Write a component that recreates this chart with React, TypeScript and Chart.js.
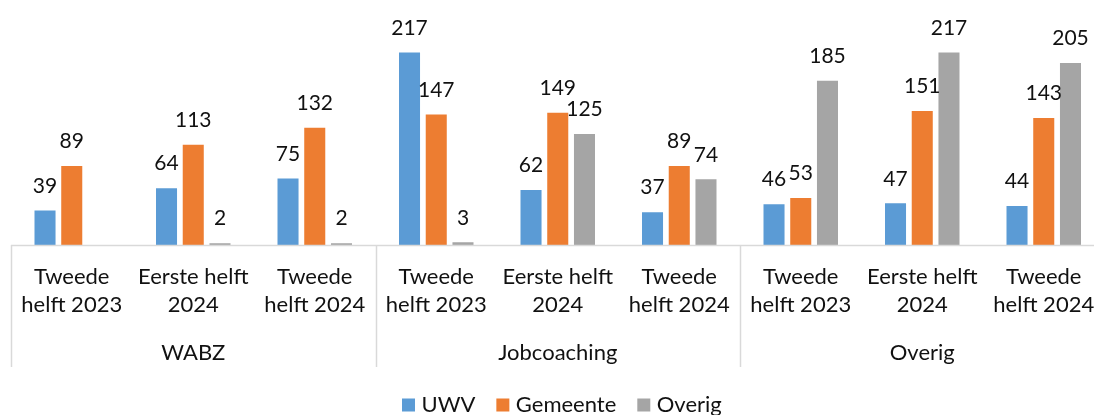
import React, { useEffect, useRef } from "react";
import Chart from "chart.js/auto";

const categories: string[][] = [
  ["Tweede", "helft 2023"],
  ["Eerste helft", "2024"],
  ["Tweede", "helft 2024"],
  ["Tweede", "helft 2023"],
  ["Eerste helft", "2024"],
  ["Tweede", "helft 2024"],
  ["Tweede", "helft 2023"],
  ["Eerste helft", "2024"],
  ["Tweede", "helft 2024"],
];
const groups: string[] = ["WABZ", "Jobcoaching", "Overig"];
const uwv: (number | null)[] = [39, 64, 75, 217, 62, 37, 46, 47, 44];
const gemeente: (number | null)[] = [89, 113, 132, 147, 149, 89, 53, 151, 143];
const overig: (number | null)[] = [null, 2, 2, 3, 125, 74, 185, 217, 205];

const FONT = "Lato, 'Open Sans', sans-serif";
const TEXT = "#111111";
const LINE = "#D9D9D9";

const customPlugin = {
  id: "custom",
  afterDatasetsDraw(chart: any) {
    const ctx = chart.ctx;
    ctx.save();
    ctx.font = `21px ${FONT}`;
    ctx.fillStyle = TEXT;
    ctx.textAlign = "center";
    ctx.textBaseline = "middle";
    chart.data.datasets.forEach((ds: any, di: number) => {
      const meta = chart.getDatasetMeta(di);
      meta.data.forEach((el: any, i: number) => {
        const v = ds.data[i];
        if (v === null || v === undefined) return;
        ctx.fillText(String(v), el.x, el.y - 24.5);
      });
    });
    ctx.restore();
  },
  afterDraw(chart: any) {
    const ctx = chart.ctx;
    const xs = chart.scales.x;
    const area = chart.chartArea;
    const n = categories.length;
    const bounds: number[] = [area.left];
    for (let g = 1; g < groups.length; g++) {
      const i = g * 3;
      bounds.push((xs.getPixelForValue(i - 1) + xs.getPixelForValue(i)) / 2);
    }
    bounds.push(area.right);
    ctx.save();
    ctx.strokeStyle = LINE;
    ctx.lineWidth = 1.5;
    ctx.beginPath();
    ctx.moveTo(area.left, area.bottom + 0.5);
    ctx.lineTo(area.right, area.bottom + 0.5);
    ctx.stroke();
    bounds.forEach((bx) => {
      const x = Math.round(bx) + 0.5;
      ctx.beginPath();
      ctx.moveTo(x, area.bottom);
      ctx.lineTo(x, area.bottom + 122);
      ctx.stroke();
    });
    ctx.fillStyle = TEXT;
    ctx.textAlign = "center";
    ctx.textBaseline = "middle";
    ctx.font = `22px ${FONT}`;
    for (let i = 0; i < n; i++) {
      const x = xs.getPixelForValue(i);
      ctx.fillText(categories[i][0], x, area.bottom + 32);
      ctx.fillText(categories[i][1], x, area.bottom + 60);
    }
    groups.forEach((g, gi) => {
      const x = (bounds[gi] + bounds[gi + 1]) / 2;
      ctx.fillText(g, x, area.bottom + 108);
    });
    // legend
    let lx = 402;
    const ly = 405;
    ctx.textAlign = "left";
    chart.data.datasets.forEach((ds: any) => {
      ctx.fillStyle = ds.backgroundColor;
      ctx.fillRect(lx, ly - 6.5, 13, 13);
      ctx.fillStyle = TEXT;
      const tx = lx + 13 + 6.5;
      ctx.fillText(ds.label, tx, ly);
      lx = tx + ctx.measureText(ds.label).width + 21;
    });
    ctx.restore();
  },
};

export default function App() {
  const ref = useRef<HTMLCanvasElement | null>(null);
  useEffect(() => {
    if (!ref.current) return;
    const chart = new Chart(ref.current, {
      type: "bar",
      data: {
        labels: categories.map((c) => c.join(" ")),
        datasets: [
          { label: "UWV", data: uwv, backgroundColor: "#5B9BD5" },
          { label: "Gemeente", data: gemeente, backgroundColor: "#ED7D31" },
          { label: "Overig", data: overig, backgroundColor: "#A5A5A5" },
        ],
      },
      options: {
        responsive: false,
        animation: false,
        events: [],
        layout: { padding: { top: 32, left: 11, right: 5.5, bottom: 170 } },
        datasets: {
          bar: { categoryPercentage: 0.66, barPercentage: 0.787 },
        } as any,
        plugins: { legend: { display: false }, tooltip: { enabled: false } },
        scales: {
          x: { display: false },
          y: { display: false, min: 0, max: 240 },
        },
      },
      plugins: [customPlugin],
    });
    return () => chart.destroy();
  }, []);
  return (
    <div
      style={{
        position: "fixed",
        left: 0,
        top: 0,
        width: 1094,
        height: 415,
        overflow: "hidden",
        background: "#fff",
      }}
    >
      <canvas ref={ref} width={1110} height={415} style={{ display: "block" }} />
    </div>
  );
}
